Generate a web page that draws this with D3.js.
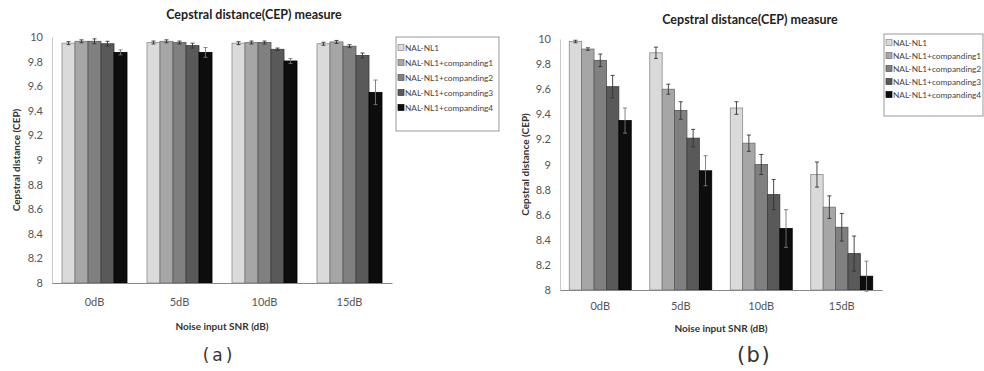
<!DOCTYPE html>
<html>
<head>
<meta charset="utf-8">
<script src="https://cdn.jsdelivr.net/npm/d3@7"></script>
<style>
  body { margin: 0; background: #fff; }
  svg { display: block; font-family: Lato, "Liberation Sans", sans-serif; }
</style>
</head>
<body>
<svg id="chart" width="984" height="371"></svg>
<script>
// data
var categories = ["0dB", "5dB", "10dB", "15dB"];
var seriesNames = ["NAL-NL1", "NAL-NL1+companding1", "NAL-NL1+companding2", "NAL-NL1+companding3", "NAL-NL1+companding4"];
var yTicks = [8, 8.2, 8.4, 8.6, 8.8, 9, 9.2, 9.4, 9.6, 9.8, 10];
var tickLabels = ["8", "8.2", "8.4", "8.6", "8.8", "9", "9.2", "9.4", "9.6", "9.8", "10"];

// panel (a): one row per category, one value per series
var meansA = [
  [9.95, 9.965, 9.965, 9.945, 9.875],
  [9.955, 9.965, 9.955, 9.93, 9.875],
  [9.95, 9.955, 9.955, 9.90, 9.805],
  [9.945, 9.96, 9.925, 9.85, 9.55]
];
var errA = [
  [0.012, 0.012, 0.02, 0.02, 0.02],
  [0.012, 0.012, 0.012, 0.02, 0.04],
  [0.012, 0.012, 0.012, 0.01, 0.02],
  [0.012, 0.012, 0.012, 0.02, 0.1]
];

// panel (b)
var meansB = [
  [9.98, 9.92, 9.83, 9.62, 9.35],
  [9.89, 9.60, 9.43, 9.21, 8.95],
  [9.45, 9.17, 9.0, 8.76, 8.49],
  [8.92, 8.66, 8.50, 8.29, 8.11]
];
var errB = [
  [0.01, 0.01, 0.05, 0.09, 0.1],
  [0.045, 0.04, 0.07, 0.07, 0.12],
  [0.05, 0.065, 0.08, 0.12, 0.15],
  [0.1, 0.09, 0.11, 0.14, 0.12]
];

var fills = ["#dadada", "#a6a6a6", "#808080", "#595959", "#0d0d0d"];
var strokes = ["#8a8a8a", "#707070", "#555555", "#3a3a3a", "#000000"];

var svg = d3.select("#chart");

function drawPanel(p) {
  var g = svg.append("g");

  var x = d3.scaleBand().domain(categories)
    .range([p.left, p.right]).paddingInner(p.pad).paddingOuter(p.pad / 2);
  var xs = d3.scaleBand().domain(seriesNames).range([0, x.bandwidth()]);
  var y = d3.scaleLinear().domain([8, 10]).range([p.bottom, p.top]);

  // title
  g.append("text")
    .attr("x", p.titleX).attr("y", p.titleY)
    .attr("text-anchor", "middle")
    .attr("font-size", 12.5).attr("font-weight", "bold").attr("fill", "#222")
    .text("Cepstral distance(CEP) measure");

  // y axis
  var yAxis = g.append("g")
    .attr("transform", "translate(" + p.left + ",0)")
    .call(d3.axisLeft(y).tickValues(yTicks).tickSize(0).tickPadding(9)
      .tickFormat(function (d, i) { return tickLabels[i]; }));
  yAxis.select(".domain").attr("stroke", "#c8c8c8");
  yAxis.selectAll("text").attr("font-size", 11).attr("fill", "#555")
    .attr("font-family", "Lato, sans-serif");

  g.append("text")
    .attr("transform", "translate(" + p.yTitleX + "," + ((p.top + p.bottom) / 2) + ") rotate(-90)")
    .attr("text-anchor", "middle").attr("dy", "0.35em")
    .attr("font-size", 10).attr("font-weight", "bold").attr("fill", "#333")
    .text("Cepstral distance (CEP)");

  // bars
  var groups = g.selectAll(".grp").data(categories).enter().append("g")
    .attr("class", "grp")
    .attr("transform", function (d) { return "translate(" + x(d) + ",0)"; });

  function rows(d, ci) {
    return seriesNames.map(function (s, si) { return { s: s, si: si, v: p.means[ci][si], e: p.errs[ci][si] }; });
  }

  groups.selectAll("rect").data(rows)
    .enter().append("rect")
    .attr("x", function (d) { return xs(d.s); })
    .attr("y", function (d) { return y(d.v); })
    .attr("width", xs.bandwidth())
    .attr("height", function (d) { return y(8) - y(d.v); })
    .attr("fill", function (d) { return fills[d.si]; })
    .attr("stroke", function (d) { return strokes[d.si]; })
    .attr("stroke-width", 0.8);

  // error bars
  var eb = groups.selectAll(".eb").data(rows)
    .enter().append("g").attr("class", "eb")
    .attr("stroke", function (d) { return d.si === 4 ? "#777" : "#333"; })
    .attr("stroke-width", 0.9);
  eb.append("line")
    .attr("x1", function (d) { return xs(d.s) + xs.bandwidth() / 2; })
    .attr("x2", function (d) { return xs(d.s) + xs.bandwidth() / 2; })
    .attr("y1", function (d) { return y(d.v + d.e); })
    .attr("y2", function (d) { return y(d.v - d.e); });
  eb.selectAll(".cap").data(function (d) { return [[d, d.v + d.e], [d, d.v - d.e]]; })
    .enter().append("line").attr("class", "cap")
    .attr("x1", function (d) { return xs(d[0].s) + xs.bandwidth() / 2 - 2; })
    .attr("x2", function (d) { return xs(d[0].s) + xs.bandwidth() / 2 + 2; })
    .attr("y1", function (d) { return y(d[1]); })
    .attr("y2", function (d) { return y(d[1]); });

  // x axis
  var xAxis = g.append("g")
    .attr("transform", "translate(0," + p.bottom + ")")
    .call(d3.axisBottom(x).tickSize(0).tickPadding(p.xPad));
  xAxis.select(".domain").attr("stroke", "#888");
  xAxis.selectAll("text").attr("font-size", 11).attr("fill", "#555")
    .attr("font-family", "Lato, sans-serif");

  g.append("text")
    .attr("x", (p.left + p.right) / 2).attr("y", p.xTitleY)
    .attr("text-anchor", "middle")
    .attr("font-size", 10).attr("font-weight", "bold").attr("fill", "#333")
    .text("Noise input SNR (dB)");

  // legend
  g.append("rect")
    .attr("x", p.legX).attr("y", p.legY).attr("width", p.legW).attr("height", p.legH)
    .attr("fill", "#fff").attr("stroke", "#999").attr("stroke-width", 1);
  var li = g.selectAll(".leg").data(seriesNames).enter().append("g")
    .attr("class", "leg")
    .attr("transform", function (d, i) { return "translate(" + (p.legX + 2) + "," + (p.legY + p.legFirst + i * p.legStep) + ")"; });
  li.append("rect")
    .attr("x", 0).attr("y", -3.5).attr("width", 6).attr("height", 6)
    .attr("fill", function (d, i) { return fills[i]; })
    .attr("stroke", function (d, i) { return strokes[i]; }).attr("stroke-width", 0.7);
  li.append("text")
    .attr("x", 7).attr("y", 0).attr("dy", "0.3em")
    .attr("font-size", 8.3).attr("fill", "#444")
    .text(function (d) { return d; });

  // panel letter
  g.append("text")
    .attr("x", p.letterX).attr("y", p.letterY)
    .attr("text-anchor", "middle")
    .style("font-family", "'DejaVu Sans', sans-serif")
    .style("letter-spacing", p.letterSp + "px")
    .attr("font-size", p.letterSize).attr("fill", "#333")
    .text(p.letter);
}

drawPanel({
  means: meansA, errs: errA, letter: "(a)", letterSize: 17, letterSp: 3,
  left: 52, right: 392, top: 37, bottom: 283, pad: 0.235, xPad: 15,
  titleX: 254, titleY: 19, yTitleX: 16, xTitleY: 330,
  legX: 396, legY: 37, legW: 103, legH: 94, legFirst: 11, legStep: 15,
  letterX: 219, letterY: 361
});

drawPanel({
  means: meansB, errs: errB, letter: "(b)", letterSize: 21, letterSp: 1.5,
  left: 560, right: 882, top: 39, bottom: 290, pad: 0.23, xPad: 12,
  titleX: 750, titleY: 24, yTitleX: 525, xTitleY: 332,
  legX: 884, legY: 34, legW: 99, legH: 82, legFirst: 9, legStep: 13,
  letterX: 754, letterY: 362
});
</script>
</body>
</html>
